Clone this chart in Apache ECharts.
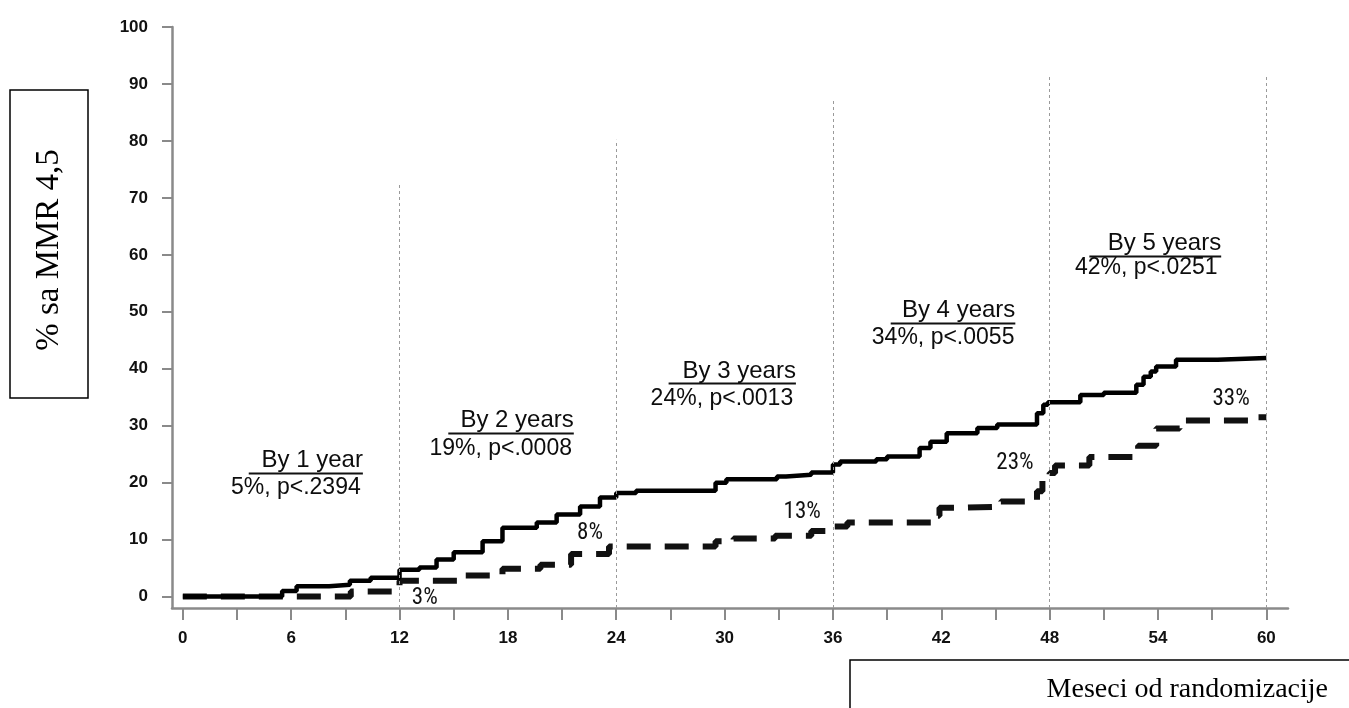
<!DOCTYPE html>
<html>
<head>
<meta charset="utf-8">
<script src="https://cdn.jsdelivr.net/npm/echarts@6/dist/echarts.min.js"></script>
<style>
html,body{margin:0;padding:0;background:#fff;}
#chart{width:1349px;height:708px;}
</style>
</head>
<body>
<div id="chart"></div>
<script>
// ---- data ----
var xTickLabels = [0, 6, 12, 18, 24, 30, 36, 42, 48, 54, 60];
var xMinorTicks = [0, 3, 6, 9, 12, 15, 18, 21, 24, 27, 30, 33, 36, 39, 42, 45, 48, 51, 54, 57, 60];
var yTickLabels = [0, 10, 20, 30, 40, 50, 60, 70, 80, 90, 100];

// solid line: [month, % with MMR]
var solidSeries = [
  [0, 0], [5.5, 1.0], [6.3, 1.8], [8.1, 2.1], [9.25, 2.8], [10.4, 3.3],
  [12.0, 4.7], [13.1, 5.1], [14.05, 6.5], [15.0, 7.8], [16.6, 9.7], [17.7, 12.1],
  [19.6, 13.0], [20.7, 14.4], [22.0, 15.8], [23.1, 17.4], [24.0, 18.2], [25.1, 18.6],
  [29.5, 20.0], [30.1, 20.6], [32.9, 21.1], [33.4, 21.4], [34.8, 21.8], [36.0, 23.2],
  [36.4, 23.7], [38.4, 24.1], [39.0, 24.6], [40.8, 26.1], [41.4, 27.2], [42.3, 28.7],
  [44.0, 29.6], [45.1, 30.2], [47.3, 32.2], [47.65, 33.7], [47.9, 34.1], [49.7, 35.4],
  [51.0, 35.8], [52.8, 37.2], [53.2, 38.6], [53.6, 39.5], [53.9, 40.4], [55.0, 41.6],
  [57.3, 41.9], [60.0, 41.9]
];
// dashed line: [month, % with MMR]
var dashedSeries = [
  [0, 0], [9.3, 0.9], [12.0, 2.8], [15.3, 3.7], [17.7, 4.9], [19.8, 5.6],
  [21.5, 7.5], [23.6, 8.8], [29.5, 9.7], [30.5, 10.2], [32.8, 10.7], [34.8, 11.5],
  [36.0, 12.3], [36.8, 13.0], [41.6, 14.2], [41.9, 15.6], [43.2, 15.8], [45.3, 16.7],
  [47.3, 18.5], [47.6, 20.5], [48.0, 21.7], [48.3, 23.0], [50.2, 24.5], [52.9, 26.5],
  [53.9, 29.5], [55.2, 30.9], [59.0, 31.5], [60.0, 31.5]
];

// vertical reference lines
var refMonths = [12, 24, 36, 48, 60];
var refTops = [72.6, 80.2, 87.2, 91.6, 91.6];

// annotations
var headTexts = ['By 1 year', 'By 2 years', 'By 3 years', 'By 4 years', 'By 5 years'];
var headPos = [[9.97, 24.0], [21.65, 31.0], [33.95, 39.6], [46.1, 50.3], [57.5, 62.1]];
var underlineFrom = [3.65, 14.7, 26.9, 39.2, 50.2];
var underlineY = [21.7, 28.7, 37.5, 48.1, 59.8];
var subTexts = ['5%, p<.2394', '19%, p<.0008', '24%, p<.0013', '34%, p<.0055', '42%, p<.0251'];
var subPos = [[9.85, 19.1], [21.55, 25.9], [33.8, 34.7], [46.05, 45.4], [57.3, 57.7]];
var pctTexts = ['3%', '8%', '13%', '23%', '33%'];
var pctPos = [[13.4, -0.25], [22.55, 11.2], [34.3, 14.85], [46.08, 23.45], [58.05, 34.7]];

var yLabelText = '% sa MMR 4,5';
var xLabelText = 'Meseci od randomizacije';

// ---- build ----
var Y_MIN = -2;
var refLines = refMonths.map(function (m, i) {
  return [{ coord: [m, Y_MIN] }, { coord: [m, refTops[i]] }];
});

var SANS = "'Liberation Sans', Arial, sans-serif";
var NARROW = "'Liberation Sans Narrow', 'Arial Narrow', 'Roboto Condensed', 'DejaVu Sans Condensed', sans-serif";
var textColor = '#0d0d0d';

// annotation rows: [x, y, kind, index]
var annRows = [];
headTexts.forEach(function (t, i) { annRows.push([headPos[i][0], headPos[i][1], 0, i]); });
subTexts.forEach(function (t, i) { annRows.push([subPos[i][0], subPos[i][1], 1, i]); });
pctTexts.forEach(function (t, i) { annRows.push([pctPos[i][0], pctPos[i][1], 2, i]); });

function renderAnn(params, api) {
  var kind = api.value(2), idx = api.value(3);
  var pt = api.coord([api.value(0), api.value(1)]);
  if (kind === 0) {
    var a = api.coord([underlineFrom[idx], underlineY[idx]]);
    var uy = Math.round(a[1]) + 0.5;
    return {
      type: 'group',
      children: [
        { type: 'text', x: pt[0], y: pt[1],
          style: { text: headTexts[idx], font: '24px ' + SANS, fill: textColor, align: 'right', verticalAlign: 'middle' } },
        { type: 'line', shape: { x1: a[0], y1: uy, x2: pt[0], y2: uy },
          style: { stroke: '#111', lineWidth: 2 } }
      ]
    };
  }
  if (kind === 1) {
    return { type: 'text', x: pt[0], y: pt[1],
      style: { text: subTexts[idx], font: '23px ' + SANS, fill: textColor, align: 'right', verticalAlign: 'middle' } };
  }
  return { type: 'text', x: pt[0], y: pt[1],
    style: { text: pctTexts[idx], font: '23px ' + NARROW, fill: '#111', align: 'center', verticalAlign: 'middle' } };
}

var chart = echarts.init(document.getElementById('chart'), null, { renderer: 'canvas' });
var axisGray = '#8a8a8a';
chart.setOption({
  animation: false,
  backgroundColor: '#fff',
  grid: { left: 172, right: 61, top: 27, bottom: 100, containLabel: false },
  xAxis: {
    type: 'value', min: -0.6, max: 61.2,
    splitLine: { show: false },
    axisLine: { show: true, onZero: false, lineStyle: { color: axisGray, width: 2.5 } },
    axisTick: { show: true, length: 12, lineStyle: { color: axisGray, width: 2 }, customValues: xMinorTicks },
    axisLabel: { customValues: xTickLabels, margin: 22, fontSize: 17, fontWeight: 'bold', color: '#111',
      fontFamily: SANS }
  },
  yAxis: {
    type: 'value', min: Y_MIN, max: 100,
    splitLine: { show: false },
    axisLine: { show: true, onZero: false, lineStyle: { color: axisGray, width: 2.5 } },
    axisTick: { show: true, length: 10, lineStyle: { color: axisGray, width: 2 }, customValues: yTickLabels },
    axisLabel: { customValues: yTickLabels, margin: 24, fontSize: 17, fontWeight: 'bold', color: '#111',
      fontFamily: SANS }
  },
  series: [
    {
      name: 'dashed', type: 'line', step: 'end', data: dashedSeries, showSymbol: false, symbol: 'none',
      lineStyle: { color: '#111', width: 6, type: [24, 14], cap: 'butt' }, silent: true, z: 2
    },
    {
      name: 'solid', type: 'line', step: 'end', data: solidSeries, showSymbol: false, symbol: 'none',
      lineStyle: { color: '#000', width: 4.5 }, silent: true, z: 3,
      markLine: {
        silent: true, symbol: ['none', 'none'], animation: false,
        label: { show: false },
        lineStyle: { color: '#9a9a9a', width: 1, type: [3, 3] },
        data: refLines
      }
    },
    {
      name: 'annotations', type: 'custom', data: annRows, renderItem: renderAnn, silent: true, z: 5,
      encode: { x: 0, y: 1 }
    }
  ],
  graphic: [
    { type: 'rect', shape: { x: 10, y: 90, width: 78, height: 308 },
      style: { fill: 'none', stroke: '#000', lineWidth: 1.5 } },
    { type: 'text', x: 49, y: 250, rotation: Math.PI / 2,
      style: { text: yLabelText, fill: '#000', font: "33px 'Liberation Serif', 'Times New Roman', serif",
        textAlign: 'center', textVerticalAlign: 'middle' } },
    { type: 'rect', shape: { x: 850, y: 660, width: 520, height: 70 },
      style: { fill: 'none', stroke: '#000', lineWidth: 1.5 } },
    { type: 'text', x: 1328, y: 690,
      style: { text: xLabelText, fill: '#000', font: "28px 'Liberation Serif', 'Times New Roman', serif",
        textAlign: 'right', textVerticalAlign: 'middle' } }
  ]
});
</script>
</body>
</html>
